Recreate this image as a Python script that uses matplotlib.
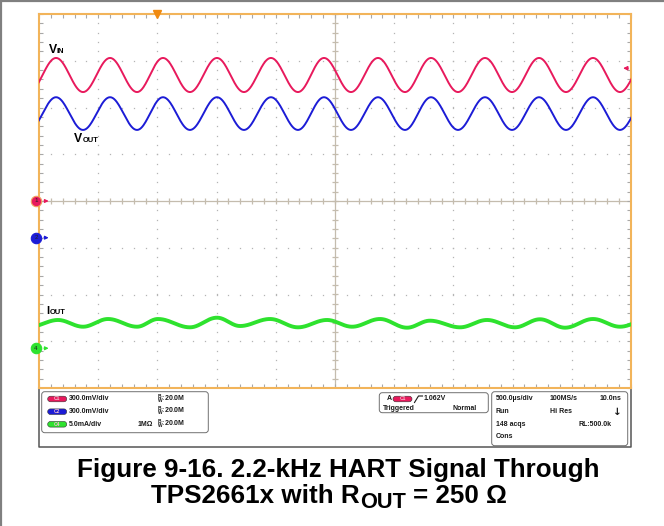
import numpy as np
import matplotlib
matplotlib.use("Agg")
import matplotlib.pyplot as plt
from matplotlib.patches import FancyBboxPatch
from matplotlib.ticker import MultipleLocator

plt.rcParams['font.family'] = ['Liberation Sans', 'DejaVu Sans']
plt.rcParams['mathtext.fontset'] = 'custom'
plt.rcParams['mathtext.rm'] = 'Liberation Sans:bold'
plt.rcParams['mathtext.bf'] = 'Liberation Sans:bold'

W, H = 664, 526

# ---------------- data (time in µs, level in screen divisions) ----------------
vin_t = [-2584, -2356, -2128, -1900, -1672, -1453, -1225, -997, -769, -541, -313, -93,
         135, 363, 591, 811, 1039, 1267, 1495, 1723, 1951, 2179, 2407, 2635]
vin_v = [2.33, 3.06, 2.33, 3.06, 2.33, 3.06, 2.33, 3.06, 2.33, 3.06, 2.33, 3.06,
         2.33, 3.06, 2.33, 3.06, 2.33, 3.06, 2.33, 3.06, 2.33, 3.06, 2.33, 3.06]

vout_t = [-2584, -2356, -2128, -1900, -1672, -1453, -1225, -997, -769, -541, -313, -93,
          135, 363, 591, 811, 1039, 1267, 1495, 1723, 1951, 2179, 2407, 2635]
vout_v = [1.52, 2.22, 1.52, 2.22, 1.52, 2.22, 1.52, 2.22, 1.52, 2.22, 1.52, 2.22,
          1.52, 2.22, 1.52, 2.22, 1.52, 2.22, 1.52, 2.22, 1.52, 2.22, 1.52, 2.22]

iout_t = [-2568, -2340, -2128, -1917, -1672, -1495, -1225, -997, -802, -549, -313, -68,
          144, 380, 608, 802, 1056, 1284, 1520, 1731, 1943, 2179, 2407, 2635]
iout_v = [-2.684, -2.545, -2.689, -2.524, -2.689, -2.524, -2.702, -2.496, -2.674, -2.524,
          -2.702, -2.545, -2.689, -2.524, -2.710, -2.560, -2.702, -2.545, -2.702, -2.530,
          -2.710, -2.524, -2.689, -2.545]

channel_names = ['1', '2', '4']
channel_ground = [0.0, -0.785, -3.15]
trigger_time = -1500
trigger_level = 2.84

scale_labels = ['300.0mV/div', '300.0mV/div', '5.0mA/div']
badge_labels = ['C1', 'C2', 'C4']

RED = '#e8195c'
BLUE = '#1c1cd6'
GREEN = '#2ee22e'
ch_colors = [RED, BLUE, GREEN]


def trace(t, v, n=40):
    xs, ys = [], []
    for i in range(len(t) - 1):
        s = np.linspace(0, 1, n, endpoint=False)
        xs.append(t[i] + (t[i + 1] - t[i]) * s)
        ys.append(v[i] + (v[i + 1] - v[i]) * (1 - np.cos(np.pi * s)) / 2)
    xs.append([t[-1]])
    ys.append([v[-1]])
    return np.concatenate(xs), np.concatenate(ys)


fig = plt.figure(figsize=(W / 100, H / 100), dpi=100)
fig.patch.set_facecolor('white')

ax = fig.add_axes([39 / W, 1 - 388 / H, 592 / W, 374 / H])
ax.set_xlim(-2500, 2500)
ax.set_ylim(-4, 4)
for sp in ax.spines.values():
    sp.set_color('#f2b45a')
    sp.set_linewidth(1.5)
ax.xaxis.set_major_locator(MultipleLocator(500))
ax.xaxis.set_minor_locator(MultipleLocator(100))
ax.yaxis.set_major_locator(MultipleLocator(1))
ax.yaxis.set_minor_locator(MultipleLocator(0.2))
ax.tick_params(which='both', direction='in', top=True, right=True, bottom=True, left=True,
               labelbottom=False, labelleft=False, color='#a8a8a8', width=0.8)
ax.tick_params(which='major', length=3.2)
ax.tick_params(which='minor', length=2.6)

# dotted graticule
gc = '#b4b4b4'
xmaj = np.arange(-2000, 2001, 500)
ymaj = np.arange(-3, 4, 1)
ymin_pts = np.arange(-4, 4.001, 0.2)
xmin_pts = np.arange(-2500, 2500.1, 100)
for xm in xmaj:
    if xm == 0:
        continue
    ax.plot(np.full_like(ymin_pts, xm), ymin_pts, ls='none', marker='s', ms=0.9,
            color=gc, mew=0, zorder=1)
for ym in ymaj:
    if ym == 0:
        continue
    ax.plot(xmin_pts, np.full_like(xmin_pts, ym), ls='none', marker='s', ms=0.9,
            color=gc, mew=0, zorder=1)
# center crosshair
cc = '#c4bcae'
ax.axvline(0, color=cc, lw=0.9, zorder=1)
ax.axhline(0, color=cc, lw=0.9, zorder=1)
ax.plot(np.zeros_like(ymin_pts), ymin_pts, ls='none', marker='_', ms=5, mew=0.9,
        color=cc, zorder=1)
ax.plot(xmin_pts, np.zeros_like(xmin_pts), ls='none', marker='|', ms=5, mew=0.9,
        color=cc, zorder=1)

# traces
x, y = trace(vin_t, vin_v)
ax.plot(x, y, color=RED, lw=1.4, zorder=3)
x, y = trace(vout_t, vout_v)
ax.plot(x, y, color=BLUE, lw=1.4, zorder=3)
x, y = trace(iout_t, iout_v)
ax.plot(x, y, color=GREEN, lw=2.8, zorder=3)


# trace labels
def sublabel(xd, yd, big, small, off, bigsize=8.8, smallsize=5.4):
    ax.text(xd, yd, big, fontsize=bigsize, fontweight='bold', va='baseline', ha='left',
            zorder=5)
    ax.annotate(small, xy=(xd, yd), xycoords='data', xytext=(off, 0),
                textcoords='offset points', fontsize=smallsize, fontweight='bold',
                va='baseline', ha='left', zorder=5)


sublabel(-2420, 3.17, 'V', 'IN', 6.0)
sublabel(-2204, 1.268, 'V', 'OUT', 6.0)
sublabel(-2440, -2.42, 'I', 'OUT', 2.4, bigsize=8.0)

# trigger markers
ax.plot([trigger_time], [4], marker='v', ms=6, color='#f08a10', clip_on=False, zorder=6)
ax.annotate('', xy=(2410, trigger_level), xytext=(2500, trigger_level),
            arrowprops=dict(arrowstyle='-|>', color=RED, lw=0.9, mutation_scale=6), zorder=6)

# channel ground markers
for name, g, c in zip(channel_names, channel_ground, ch_colors):
    ax.plot([-2525], [g], marker='o', ms=7.5, color=c, mec='#f0a060' if name == '1' else c,
            mew=0.8, clip_on=False, zorder=7)
    ax.text(-2525, g, name, fontsize=4.5, ha='center', va='center', color='#222222',
            zorder=8, clip_on=False)
    ax.annotate('', xy=(-2395, g), xytext=(-2480, g),
                arrowprops=dict(arrowstyle='-|>', color=c, lw=0.9, mutation_scale=5),
                annotation_clip=False, zorder=7)

# ---------------- overlay in pixel coordinates ----------------
ov = fig.add_axes([0, 0, 1, 1], zorder=-1)
ov.set_xlim(0, W)
ov.set_ylim(H, 0)
ov.axis('off')

# outer frame
ov.plot([1.2, W], [1.2, 1.2], color='#808080', lw=1.6)
ov.plot([1.2, 1.2], [1.2, H], color='#808080', lw=1.6)

# panel frame
ov.plot([39, 39, 631, 631], [388, 447, 447, 388], color='#555555', lw=1.1)


def rbox(x0, y0, w, h):
    ov.add_patch(FancyBboxPatch((x0, y0), w, h, boxstyle='round,pad=0,rounding_size=3',
                                fc='white', ec='#707070', lw=0.7))


rbox(41.7, 391.7, 166.6, 41)
rbox(379.3, 392.7, 109, 20)
rbox(491.7, 391.7, 136, 54)

fs = 5.0


def t(xp, yp, s, ha='left', size=fs, **kw):
    ov.text(xp, yp, s, fontsize=size, fontweight='bold', ha=ha, va='center',
            color='#1a1a1a', **kw)


def pill(xp, yp, lab, c):
    ov.add_patch(FancyBboxPatch((xp, yp - 2.8), 19, 5.6,
                                boxstyle='round,pad=0,rounding_size=2.8',
                                fc=c, ec='#333333', lw=0.4))
    ov.text(xp + 9.5, yp, lab, fontsize=3.6, ha='center', va='center', color='#f4c0d0',
            fontweight='bold')


rows = [399, 411.7, 424.3]
for r, lab, sc, c in zip(rows, badge_labels, scale_labels, ch_colors):
    pill(47.7, r, lab, c)
    t(69.3, r, sc)
    t(156.7, r, r'${}^{\mathrm{B}}_{\mathrm{W}}$:20.0M')
t(137.7, rows[2], '1MΩ')

# trigger box
t(386.7, 399, 'A')
pill(393, 399, 'C1', RED)
ov.plot([414.5, 418.5, 422.5], [402.5, 396, 396], color='#1a1a1a', lw=0.8)
t(424, 399, '1.062V')
t(383.3, 409, 'Triggered')
t(476.7, 409, 'Normal', ha='right')

# acquisition box
t(495.7, 399, '500.0µs/div')
t(550, 399, '100MS/s')
t(621.7, 399, '10.0ns', ha='right')
t(495.7, 411.7, 'Run')
t(550, 411.7, 'Hi Res')
ov.text(617.5, 411.5, '↓', fontsize=7.5, fontweight='bold', ha='center', va='center',
        color='#1a1a1a', family='DejaVu Sans')
t(495.7, 424, '148 acqs')
t(611.7, 424, 'RL:500.0k', ha='right')
t(495.7, 436.5, 'Cons')

# caption
CAP = 18.7
ov.text(338, 477, 'Figure 9-16. 2.2-kHz HART Signal Through', fontsize=CAP,
        fontweight='bold', ha='center', va='baseline', color='black')

renderer = fig.canvas.get_renderer()
parts = [('TPS2661x with R', CAP, 0.0, 0.0), ('OUT', CAP * 0.84, 4.5, 0.5),
         ('= 250 Ω', CAP, 0.0, 7.5)]
objs = []
cur = 0.0
for s, size, dy, gap in parts:
    cur += gap
    o = ov.text(cur, 503 + dy, s, fontsize=size, fontweight='bold', ha='left',
                va='baseline', color='black')
    w = o.get_window_extent(renderer).width
    objs.append((o, cur))
    cur += w
shift = 328.7 - cur / 2
for o, x0 in objs:
    o.set_x(x0 + shift)

fig.savefig('out.png', dpi=100, facecolor='white')
